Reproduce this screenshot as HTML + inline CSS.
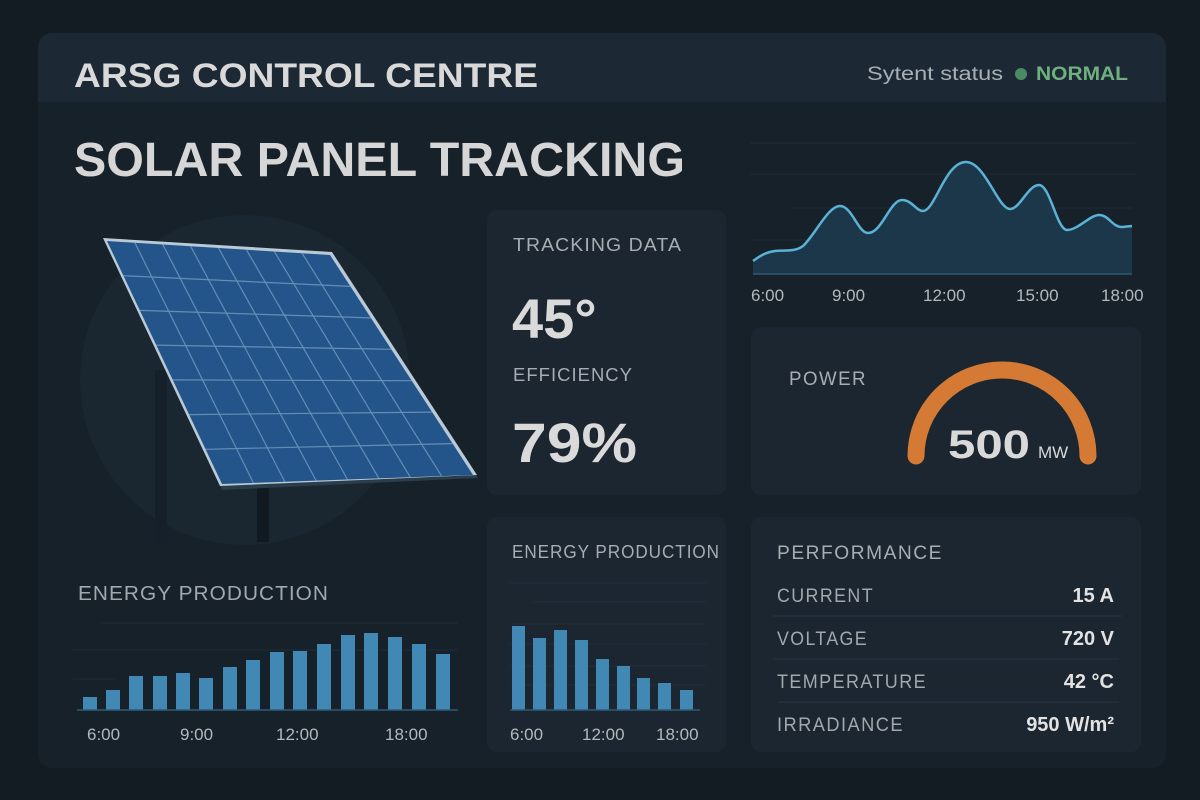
<!DOCTYPE html>
<html><head><meta charset="utf-8"><style>
html,body{margin:0;padding:0;background:#131b23;}
svg{display:block;font-family:"Liberation Sans",sans-serif;}
</style></head><body>
<svg width="1200" height="800" viewBox="0 0 1200 800">
<rect width="1200" height="800" fill="#131b23"/>
<rect x="38" y="33" width="1128" height="735" rx="14" fill="#17212a"/>
<path d="M38 47a14 14 0 0 1 14-14h1100a14 14 0 0 1 14 14v55H38z" fill="#1c2833"/>
<text x="74" y="87" font-size="34" font-weight="bold" fill="#d9d9d9" textLength="464" lengthAdjust="spacingAndGlyphs">ARSG CONTROL CENTRE</text>
<text x="867" y="80" font-size="19" fill="#a9b0b5" textLength="136" lengthAdjust="spacingAndGlyphs">Sytent status</text>
<circle cx="1021" cy="74" r="6" fill="#4c8a66"/>
<text x="1036" y="80" font-size="19" font-weight="bold" fill="#6fb07f" textLength="92" lengthAdjust="spacingAndGlyphs">NORMAL</text>
<text x="74" y="176" font-size="48" font-weight="bold" fill="#d6d6d6" textLength="611" lengthAdjust="spacingAndGlyphs">SOLAR PANEL TRACKING</text>

<circle cx="245" cy="380" r="165" fill="#1a2630"/>
<rect x="155" y="370" width="12" height="175" fill="#16202a"/>
<rect x="257" y="480" width="12" height="62" fill="#111921"/>
<polygon points="103,238 332,252 478,478 222,490" fill="#2a3d4b"/>
<polygon points="103,238 332,252 477,475 220,486" fill="#b9c9d6"/>
<polygon points="107,241 330,255 473,475 222,484" fill="#24558a"/>
<g stroke="#7fa6c9" stroke-width="1.2" opacity="0.7">
<line x1="134.9" y1="242.75" x2="253.4" y2="482.9"/>
<line x1="162.8" y1="244.5" x2="284.8" y2="481.75"/>
<line x1="190.6" y1="246.25" x2="316.1" y2="480.6"/>
<line x1="218.5" y1="248" x2="347.5" y2="479.5"/>
<line x1="246.4" y1="249.75" x2="378.9" y2="478.4"/>
<line x1="274.3" y1="251.5" x2="410.3" y2="477.25"/>
<line x1="302.1" y1="253.25" x2="441.6" y2="476.1"/>
<line x1="123.4" y1="275.7" x2="350.4" y2="286.4"/>
<line x1="139.9" y1="310.4" x2="370.9" y2="317.9"/>
<line x1="156.3" y1="345.1" x2="391.3" y2="349.3"/>
<line x1="172.7" y1="379.9" x2="411.7" y2="380.7"/>
<line x1="189.1" y1="414.6" x2="432.1" y2="412.1"/>
<line x1="205.6" y1="449.3" x2="452.6" y2="443.6"/>
</g>

<text x="78" y="600" font-size="20" fill="#a2a8ad" letter-spacing="1" textLength="251" lengthAdjust="spacingAndGlyphs">ENERGY PRODUCTION</text>
<g stroke="#1e2b36" stroke-width="1"><line x1="100" y1="623" x2="458" y2="623"/><line x1="73" y1="650" x2="458" y2="650"/><line x1="73" y1="679" x2="115" y2="679"/></g>
<g fill="#4188b5">
<rect x="83" y="697" width="14" height="13"/><rect x="106" y="690" width="14" height="20"/>
<rect x="129" y="676" width="14" height="34"/><rect x="153" y="676" width="14" height="34"/>
<rect x="176" y="673" width="14" height="37"/><rect x="199" y="678" width="14" height="32"/>
<rect x="223" y="667" width="14" height="43"/><rect x="246" y="660" width="14" height="50"/>
<rect x="270" y="652" width="14" height="58"/><rect x="293" y="651" width="14" height="59"/>
<rect x="317" y="644" width="14" height="66"/><rect x="341" y="635" width="14" height="75"/>
<rect x="364" y="633" width="14" height="77"/><rect x="388" y="637" width="14" height="73"/>
<rect x="412" y="644" width="14" height="66"/><rect x="436" y="654" width="14" height="56"/>
</g>
<line x1="77" y1="710" x2="458" y2="710" stroke="#2f5a78" stroke-width="1.5"/>
<g font-size="17" fill="#b3b8bc"><text x="87" y="740">6:00</text><text x="180" y="740">9:00</text><text x="276" y="740">12:00</text><text x="385" y="740">18:00</text></g>

<rect x="487" y="210" width="239" height="285" rx="10" fill="#1b2630"/>
<text x="513" y="251" font-size="18" fill="#a7adb2" letter-spacing="1" textLength="169" lengthAdjust="spacingAndGlyphs">TRACKING DATA</text>
<text x="512" y="338" font-size="56" font-weight="bold" fill="#dadada">45°</text>
<text x="513" y="381" font-size="18" fill="#a7adb2" letter-spacing="1" textLength="120" lengthAdjust="spacingAndGlyphs">EFFICIENCY</text>
<text x="512" y="462" font-size="56" font-weight="bold" fill="#dadada" textLength="125" lengthAdjust="spacingAndGlyphs">79%</text>

<g stroke="#1d2b36" stroke-width="1"><line x1="750" y1="143" x2="1135" y2="143"/><line x1="750" y1="174" x2="1135" y2="174"/><line x1="793" y1="208" x2="1132" y2="208"/><line x1="753" y1="240" x2="1132" y2="240"/></g>
<path d="M753 261 C760 256,766 252,775 251 C785 250,795 252,803 246 C815 235,828 206,840 206 C852 206,858 233,868 233 C882 233,890 200,902 200 C912 200,916 211,923 211 C935 211,945 162,966 162 C985 162,998 209,1010 209 C1020 209,1028 185,1039 185 C1050 185,1057 230,1067 230 C1078 230,1090 215,1099 215 C1109 215,1112 227,1122 227 L1132 226 L1132 274 L753 274 Z" fill="#1d3a4d" opacity="0.9"/>
<path d="M753 261 C760 256,766 252,775 251 C785 250,795 252,803 246 C815 235,828 206,840 206 C852 206,858 233,868 233 C882 233,890 200,902 200 C912 200,916 211,923 211 C935 211,945 162,966 162 C985 162,998 209,1010 209 C1020 209,1028 185,1039 185 C1050 185,1057 230,1067 230 C1078 230,1090 215,1099 215 C1109 215,1112 227,1122 227 L1132 226" fill="none" stroke="#5ab2d6" stroke-width="2.5"/>
<line x1="753" y1="274" x2="1132" y2="274" stroke="#2f5a78" stroke-width="1.5"/>
<g font-size="17" fill="#b3b8bc"><text x="751" y="301">6:00</text><text x="832" y="301">9:00</text><text x="923" y="301">12:00</text><text x="1016" y="301">15:00</text><text x="1101" y="301">18:00</text></g>

<rect x="751" y="327" width="390" height="168" rx="10" fill="#1b2630"/>
<text x="789" y="385" font-size="19" fill="#a7adb2" letter-spacing="1.5" textLength="78" lengthAdjust="spacingAndGlyphs">POWER</text>
<path d="M916 456 A86 86 0 0 1 1088 456" fill="none" stroke="#d47a34" stroke-width="17" stroke-linecap="round"/>
<text x="948" y="458" font-size="40" font-weight="bold" fill="#d9d9d9" textLength="82" lengthAdjust="spacingAndGlyphs">500</text>
<text x="1038" y="458" font-size="17" fill="#d9d9d9">MW</text>

<rect x="487" y="517" width="239" height="235" rx="10" fill="#1b2630"/>
<text x="512" y="558" font-size="18" fill="#a7adb2" letter-spacing="1" textLength="208" lengthAdjust="spacingAndGlyphs">ENERGY PRODUCTION</text>
<g stroke="#22303b" stroke-width="1"><line x1="510" y1="583" x2="706" y2="583"/><line x1="533" y1="602" x2="706" y2="602"/><line x1="510" y1="624" x2="706" y2="624"/><line x1="510" y1="644" x2="706" y2="644"/><line x1="510" y1="666" x2="706" y2="666"/><line x1="510" y1="685" x2="706" y2="685"/></g>
<g fill="#4188b5">
<rect x="512" y="626" width="13" height="84"/><rect x="533" y="638" width="13" height="72"/>
<rect x="554" y="630" width="13" height="80"/><rect x="575" y="640" width="13" height="70"/>
<rect x="596" y="659" width="13" height="51"/><rect x="617" y="666" width="13" height="44"/>
<rect x="637" y="678" width="13" height="32"/><rect x="658" y="683" width="13" height="27"/>
<rect x="680" y="690" width="13" height="20"/>
</g>
<line x1="510" y1="710" x2="700" y2="710" stroke="#2f5a78" stroke-width="1.5"/>
<g font-size="17" fill="#b3b8bc"><text x="510" y="740">6:00</text><text x="582" y="740">12:00</text><text x="656" y="740">18:00</text></g>

<rect x="751" y="517" width="390" height="235" rx="10" fill="#1b2630"/>
<text x="777" y="559" font-size="19" fill="#a7adb2" letter-spacing="1.5" textLength="166" lengthAdjust="spacingAndGlyphs">PERFORMANCE</text>
<g font-size="19" fill="#a2a8ad" letter-spacing="1.5">
<text x="777" y="602" textLength="97" lengthAdjust="spacingAndGlyphs">CURRENT</text>
<text x="777" y="645" textLength="91" lengthAdjust="spacingAndGlyphs">VOLTAGE</text>
<text x="777" y="688" textLength="150" lengthAdjust="spacingAndGlyphs">TEMPERATURE</text>
<text x="777" y="731" textLength="127" lengthAdjust="spacingAndGlyphs">IRRADIANCE</text>
</g>
<g font-size="20" font-weight="bold" fill="#e2e2e2" text-anchor="end">
<text x="1114" y="602">15 A</text><text x="1114" y="645">720 V</text><text x="1114" y="688">42 °C</text><text x="1114" y="731">950 W/m²</text>
</g>
<g stroke="#27343f" stroke-width="1"><line x1="773" y1="616" x2="1122" y2="616"/><line x1="773" y1="659" x2="1119" y2="659"/><line x1="778" y1="702" x2="1119" y2="702"/></g>
</svg>
</body></html>
